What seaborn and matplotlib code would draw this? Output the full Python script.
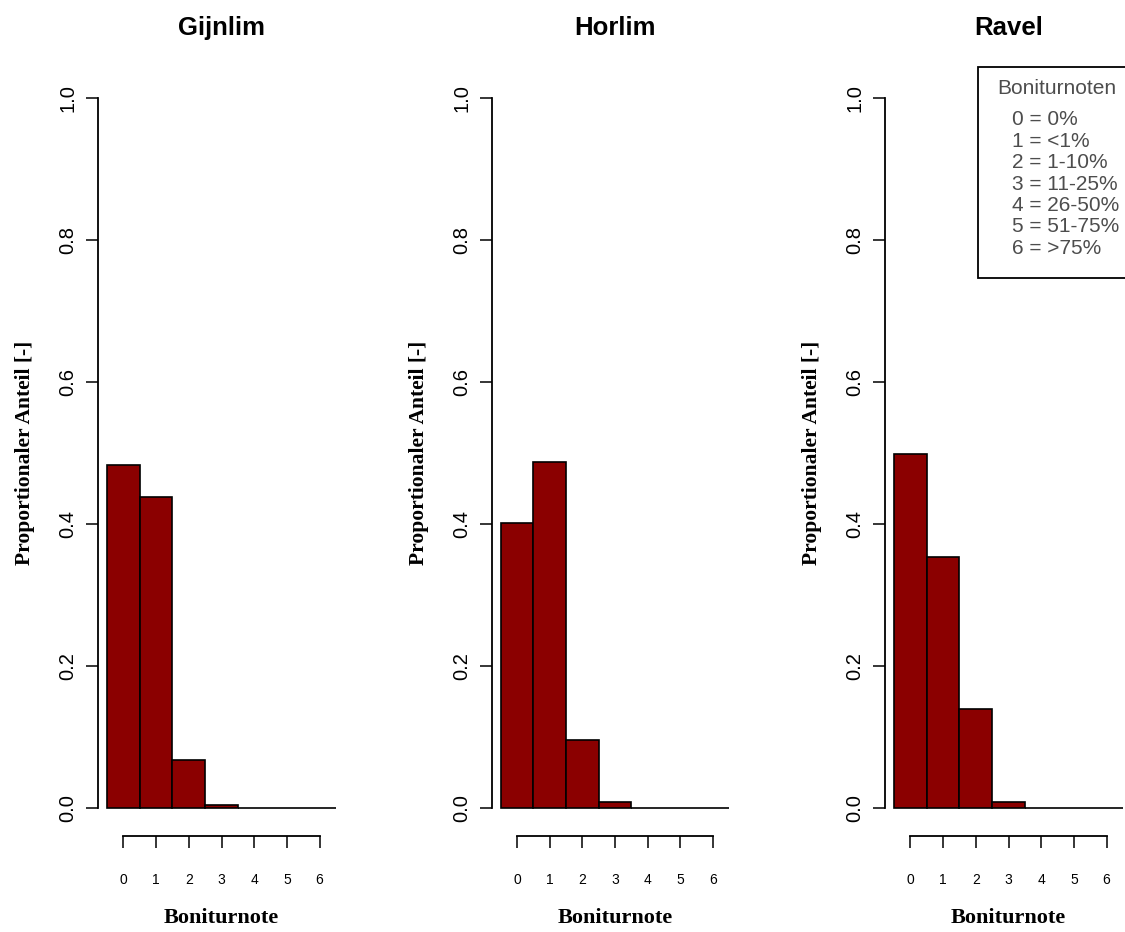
import matplotlib
matplotlib.use("Agg")
import matplotlib.pyplot as plt
import seaborn as sns
import pandas as pd
from matplotlib.patches import Rectangle

# Boniturnoten (rating classes) and proportional share per site
noten = ["0", "1", "2", "3", "4", "5", "6"]
sites = ["Gijnlim", "Horlim", "Ravel"]
gijnlim = [0.483, 0.438, 0.068, 0.004, 0.0, 0.0, 0.0]
horlim = [0.402, 0.488, 0.096, 0.008, 0.0, 0.0, 0.0]
ravel = [0.499, 0.354, 0.139, 0.008, 0.0, 0.0, 0.0]
values = [gijnlim, horlim, ravel]

legend_title = "Boniturnoten"
legend_entries = ["0 = 0%", "1 = <1%", "2 = 1-10%", "3 = 11-25%",
                  "4 = 26-50%", "5 = 51-75%", "6 = >75%"]

sns.set_style("ticks")
plt.rcParams["font.family"] = ["Liberation Sans", "DejaVu Sans"]
plt.rcParams.update({"text.color": "black", "axes.labelcolor": "black",
                     "xtick.color": "black", "ytick.color": "black"})

W, H = 1125, 932
fig = plt.figure(figsize=(W / 100, H / 100), dpi=100)

bar_color = "#8B0000"
lefts_px = [98, 491.5, 885]
ax_w_px = 247
ax_bottom = (H - 836.4) / H
ax_height = (836.4 - 69.6) / H
serif = ["Liberation Serif", "DejaVu Serif"]

for i, (site, vals) in enumerate(zip(sites, values)):
    ax = fig.add_axes([lefts_px[i] / W, ax_bottom, ax_w_px / W, ax_height])
    df = pd.DataFrame({"Note": noten, "Anteil": vals})
    sns.barplot(data=df, x="Note", y="Anteil", order=noten, ax=ax,
                color=bar_color, saturation=1, width=1.0,
                edgecolor="black", linewidth=1.2, errorbar=None)
    ax.set_xlim(-0.78, 6.78)
    ax.set_ylim(-0.04, 1.04)

    ax.spines["top"].set_visible(False)
    ax.spines["right"].set_visible(False)
    ax.spines["left"].set_bounds(0, 1)
    ax.spines["bottom"].set_bounds(0, 6)
    for s in ("left", "bottom"):
        ax.spines[s].set_linewidth(1.3)
        ax.spines[s].set_color("black")

    ax.set_yticks([0, 0.2, 0.4, 0.6, 0.8, 1.0])
    ax.set_yticklabels(["0.0", "0.2", "0.4", "0.6", "0.8", "1.0"],
                       rotation=90, va="center", fontsize=14.5)
    ax.tick_params(axis="y", direction="out", length=8.6, width=1.1,
                   pad=6, colors="black")
    ax.set_xticks(range(len(noten)))
    ax.set_xticklabels(noten, fontsize=10)
    ax.tick_params(axis="x", direction="out", length=8.3, width=1.1,
                   pad=18, colors="black")

    ax.set_ylabel("Proportionaler Anteil [-]", family=serif,
                  fontweight="bold", fontsize=15.5, labelpad=17)
    ax.set_xlabel("Boniturnote", family=serif, fontweight="bold",
                  fontsize=16, labelpad=15)
    ax.set_title(site, fontweight="bold", fontsize=18.5, pad=25,
                 color="black")

# Legend box listing the rating classes
legend_color = "#4d4d4d"
box_left, box_top, box_bottom, box_right = 978, 67, 278, 1138
fig.patches.append(Rectangle((box_left / W, 1 - box_bottom / H),
                             (box_right - box_left) / W,
                             (box_bottom - box_top) / H,
                             transform=fig.transFigure, facecolor="white",
                             edgecolor="black", linewidth=1.3,
                             clip_on=False, zorder=5))
fig.text(1057 / W, 1 - 88 / H, legend_title, ha="center", va="center",
         fontsize=15, color=legend_color, zorder=6)
for k, entry in enumerate(legend_entries):
    fig.text(1012 / W, 1 - (120 + 21.35 * k) / H, entry, ha="left",
             va="center", fontsize=15, color=legend_color, zorder=6)

fig.savefig("out.png", dpi=100)
